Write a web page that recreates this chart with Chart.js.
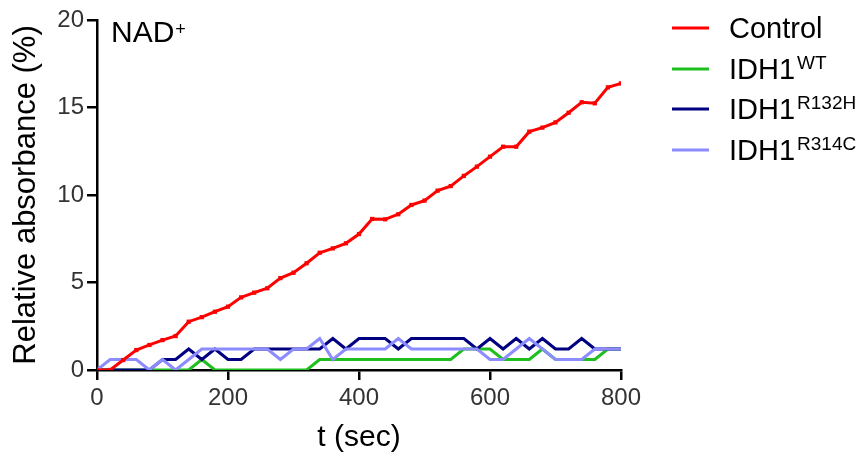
<!DOCTYPE html>
<html>
<head>
<meta charset="utf-8">
<script src="https://cdn.jsdelivr.net/npm/chart.js@4.4.0/dist/chart.umd.min.js"></script>
<style>
html,body{margin:0;padding:0;background:#fff;}
#wrap{width:863px;height:462px;position:relative;}
</style>
</head>
<body>
<div id="wrap"><canvas id="c" width="863" height="462"></canvas></div>
<script>
// time points (sec)
const times = [0,20,40,60,80,100,120,140,160,180,200,220,240,260,280,300,320,340,360,380,400,
               420,440,460,480,500,520,540,560,580,600,620,640,660,680,700,720,740,760,780,800];
const controlVals = [0,0,0.57,1.14,1.43,1.71,1.94,2.76,3.02,3.33,3.62,4.15,4.42,4.67,5.25,5.56,6.10,6.70,6.95,7.24,7.77,
                     8.63,8.61,8.90,9.43,9.68,10.25,10.51,11.09,11.62,12.19,12.76,12.76,13.62,13.85,14.15,14.70,15.30,15.24,16.15,16.38];
const wtVals = [0,0,0,0,0,0,0,0,0.6,0,0,0,0,0,0,0,0,0.6,0.6,0.6,0.6,
                0.6,0.6,0.6,0.6,0.6,0.6,0.6,1.2,1.2,1.2,0.6,0.6,0.6,1.2,0.6,0.6,0.6,0.6,1.2,1.2];
const r132hVals = [0,0,0,0,0,0.6,0.6,1.2,0.6,1.2,0.6,0.6,1.2,1.2,1.2,1.2,1.2,1.2,1.8,1.2,1.8,
                   1.8,1.8,1.2,1.8,1.8,1.8,1.8,1.8,1.2,1.8,1.2,1.8,1.2,1.8,1.2,1.2,1.8,1.2,1.2,1.2];
const r314cVals = [0,0.6,0.6,0.6,0,0.6,0,0.6,1.2,1.2,1.2,1.2,1.2,1.2,0.6,1.2,1.2,1.8,0.6,1.2,1.2,
                   1.2,1.2,1.8,1.2,1.2,1.2,1.2,1.2,1.2,0.6,0.6,1.2,1.8,1.2,0.6,0.6,0.6,1.2,1.2,1.2];
const seriesNames = ['Control','IDH1','IDH1','IDH1'];
const seriesSups = ['','WT','R132H','R314C'];
const seriesColors = ['#ff0000','#1fbf1f','#000080','#8c8cff'];
const xTicks = [0,200,400,600,800];
const yTicks = [0,5,10,15,20];

const allVals = [controlVals, wtVals, r132hVals, r314cVals];
const drawOrder = [0,3,2,1];
const FONT = '"Liberation Sans", Arial, sans-serif';

const datasets = allVals.map((vals, i) => ({
  label: seriesNames[i] + seriesSups[i],
  data: times.map((t, k) => ({x: t, y: vals[k]})),
  borderColor: seriesColors[i],
  backgroundColor: seriesColors[i],
  borderWidth: 3,
  pointRadius: i === 0 ? 3 : 0,
  pointStyle: 'rect',
  pointBorderWidth: 0,
  tension: 0,
  order: drawOrder[i]
}));

const extras = {
  id: 'extras',
  afterDraw(chart) {
    const ctx = chart.ctx;
    ctx.save();
    ctx.fillStyle = '#000';
    ctx.textBaseline = 'alphabetic';
    ctx.textAlign = 'left';
    // NAD+ label
    ctx.font = '30px ' + FONT;
    ctx.fillText('NAD', 111, 42);
    const w = ctx.measureText('NAD').width;
    ctx.font = '18px ' + FONT;
    ctx.fillText('+', 111 + w + 1, 35);
    // legend
    const rowY = [28, 69, 109, 150];
    for (let i = 0; i < seriesNames.length; i++) {
      const y = rowY[i];
      ctx.strokeStyle = seriesColors[i];
      ctx.lineWidth = 3;
      ctx.beginPath();
      ctx.moveTo(672, y);
      ctx.lineTo(709, y);
      ctx.stroke();
      ctx.fillStyle = '#000';
      ctx.font = '29px ' + FONT;
      const base = y + 10;
      ctx.fillText(seriesNames[i], 729, base);
      if (seriesSups[i]) {
        const nw = ctx.measureText(seriesNames[i]).width;
        ctx.font = '19px ' + FONT;
        ctx.fillText(seriesSups[i], 729 + nw + 2, base - 10);
      }
    }
    ctx.restore();
  }
};

new Chart(document.getElementById('c'), {
  type: 'line',
  data: { datasets },
  options: {
    responsive: false,
    animation: false,
    devicePixelRatio: 1,
    layout: { padding: { left: 0, right: 242, top: 20, bottom: 0 } },
    plugins: { legend: { display: false }, tooltip: { enabled: false } },
    scales: {
      x: {
        type: 'linear', min: 0, max: 800,
        afterBuildTicks(scale) { scale.ticks = xTicks.map(v => ({value: v})); },
        afterFit(scale) { scale.height = 92; },
        border: { color: '#000', width: 2.5 },
        grid: { drawOnChartArea: false, drawTicks: true, tickLength: 10, color: '#000', lineWidth: 2.5 },
        ticks: { color: '#333', font: { size: 24, family: FONT }, padding: 4, maxRotation: 0 },
        title: { display: true, text: 't (sec)', color: '#000', font: { size: 30, family: FONT }, padding: { top: 0, bottom: 6 } }
      },
      y: {
        type: 'linear', min: 0, max: 20,
        afterBuildTicks(scale) { scale.ticks = yTicks.map(v => ({value: v})); },
        afterFit(scale) { scale.width = 97; },
        border: { color: '#000', width: 2.5 },
        grid: { drawOnChartArea: false, drawTicks: true, tickLength: 10, color: '#000', lineWidth: 2.5 },
        ticks: { color: '#333', font: { size: 24, family: FONT }, padding: 3 },
        title: { display: true, text: 'Relative absorbance (%)', color: '#000', font: { size: 31, family: FONT }, padding: { top: 8, bottom: 0 } }
      }
    }
  },
  plugins: [extras]
});
</script>
</body>
</html>
